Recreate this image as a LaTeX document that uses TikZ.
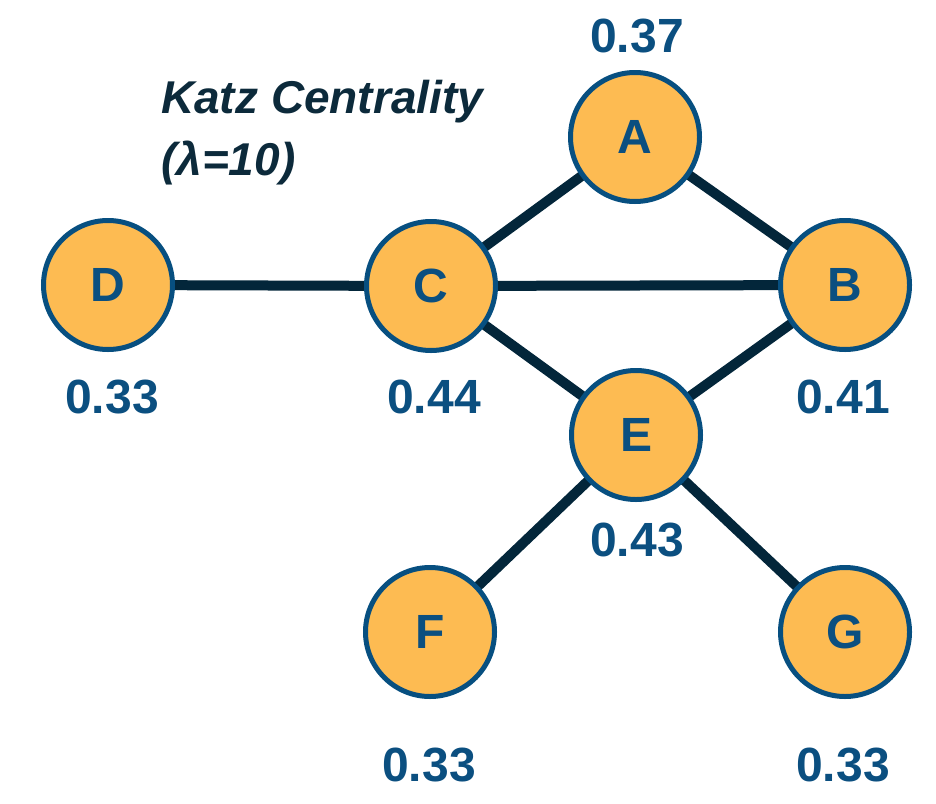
\documentclass[tikz,border=0pt]{standalone}
\usepackage{fontspec}
\setmainfont{Liberation Sans}
\usetikzlibrary{backgrounds}
\definecolor{nodefill}{HTML}{FDBB52}
\definecolor{nodeborder}{HTML}{074F80}
\definecolor{nodetext}{HTML}{0B4F80}
\definecolor{edgecol}{HTML}{03263A}
\definecolor{titlecol}{HTML}{0C2A3B}
\tikzset{
  vertex/.style={circle, fill=nodefill, draw=nodeborder, line width=5pt,
    minimum size=129pt, inner sep=0pt, text=nodetext,
    font=\fontsize{48}{48}\selectfont\bfseries},
  score/.style={inner sep=0pt, text=nodetext,
    font=\fontsize{48}{48}\selectfont\bfseries},
  link/.style={draw=edgecol, line width=10pt},
}
\begin{document}
\begin{tikzpicture}[x=1pt, y=-1pt]
\useasboundingbox (0,0) rectangle (936,803);
% nodes
\node[vertex] (A) at (635,137) {A};
\node[vertex] (B) at (845,285) {B};
\node[vertex] (C) at (431,286) {C};
\node[vertex] (D) at (108,285) {D};
\node[vertex] (E) at (636,435) {E};
\node[vertex] (F) at (430,632) {F};
\node[vertex] (G) at (845,632) {G};
% scores
\node[score] (sA) at (637,36) {0.37};
\node[score] (sD) at (112,397) {0.33};
\node[score] (sC) at (434,397) {0.44};
\node[score] (sB) at (843,397) {0.41};
\node[score] (sE) at (637,540) {0.43};
\node[score] (sF) at (429,765) {0.33};
\node[score] (sG) at (843,765) {0.33};
% title
\node[inner sep=0pt, anchor=north west, align=left, text=titlecol,
  font=\fontsize{46}{62}\selectfont\bfseries\itshape] (title) at (161,80)
  {Katz Centrality\\(λ=10)};
% edges
\begin{pgfonlayer}{background}
\draw[link] (A.center) -- (C.center);
\draw[link] (A.center) -- (B.center);
\draw[link] (D.center) -- (C.center);
\draw[link] (C.center) -- (B.center);
\draw[link] (C.center) -- (E.center);
\draw[link] (E.center) -- (B.center);
\draw[link] (E.center) -- (F.center);
\draw[link] (E.center) -- (G.center);
\end{pgfonlayer}
\end{tikzpicture}
\end{document}
